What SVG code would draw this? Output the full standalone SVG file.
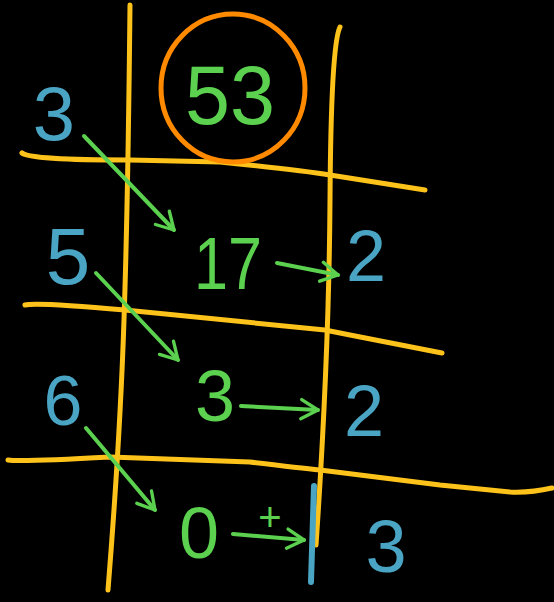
<svg xmlns="http://www.w3.org/2000/svg" width="554" height="602" viewBox="0 0 554 602">
<defs>
<marker id="ah" viewBox="0 0 10 10" refX="8" refY="5" markerWidth="6" markerHeight="6" orient="auto" markerUnits="strokeWidth">
<path d="M1,1 L8,5 L1,9" fill="none" stroke="#5bd14f" stroke-width="1.4" stroke-linecap="round" stroke-linejoin="round"/>
</marker>
<style>
.grid{fill:none;stroke:#fdc31a;stroke-width:5;stroke-linecap:round;stroke-linejoin:round}
.arr{fill:none;stroke:#5bd14f;stroke-width:4;stroke-linecap:round;marker-end:url(#ah)}
.g{fill:#5bd14f;font-family:"Liberation Sans",Arial,sans-serif}
.b{fill:#4aa5c4;font-family:"Liberation Sans",Arial,sans-serif}
</style>
</defs>
<rect width="554" height="602" fill="#000"/>
<g id="grid">
<path class="grid" d="M130,5 Q128,200 124,320 T108,590"/>
<path class="grid" d="M340,27 Q331,45 330,200 T316,545"/>
<path class="grid" d="M22,153 Q30,160 130,160 L220,162 Q300,170 330,175 L425,190"/>
<path class="grid" d="M25,305 Q35,302 125,310 L325,330 L350,335 L442,353"/>
<path class="grid" d="M8,460 Q20,462 110,457 L250,462 Q300,468 320,470 L440,485 L510,492 Q530,493 552,488"/>
</g>
<g id="root">
<ellipse cx="233" cy="88" rx="72" ry="74" fill="none" stroke="#ff8a00" stroke-width="5"/>
<text class="g" x="230" y="124" font-size="84" text-anchor="middle" textLength="90" lengthAdjust="spacingAndGlyphs">53</text>
</g>
<g id="d3"><text class="b" x="54" y="140" font-size="76" text-anchor="middle">3</text></g>
<g id="d5"><text class="b" x="68" y="284" font-size="80" text-anchor="middle">5</text></g>
<g id="d6"><text class="b" x="63" y="425" font-size="70" text-anchor="middle">6</text></g>
<g id="q17"><text class="g" x="228" y="289" font-size="74" text-anchor="middle" textLength="68" lengthAdjust="spacingAndGlyphs">17</text></g>
<g id="q3"><text class="g" x="215" y="421" font-size="72" text-anchor="middle">3</text></g>
<g id="q0"><text class="g" x="199" y="558" font-size="72" text-anchor="middle">0</text></g>
<g id="r1"><text class="b" x="366" y="281" font-size="72" text-anchor="middle">2</text></g>
<g id="r2"><text class="b" x="364" y="436" font-size="72" text-anchor="middle">2</text></g>
<g id="r3">
<path d="M314,486 L311,582" fill="none" stroke="#4aa5c4" stroke-width="6" stroke-linecap="round"/>
</g>
<g id="r4"><text class="b" x="386" y="572" font-size="74" text-anchor="middle">3</text></g>
<g id="plus"><text class="g" x="270" y="531" font-size="40" text-anchor="middle">+</text></g>
<g id="connectors">
<path class="arr" d="M84,136 L174,230"/>
<path class="arr" d="M96,273 L178,360"/>
<path class="arr" d="M86,428 L155,510"/>
<path class="arr" d="M277,263 L338,275"/>
<path class="arr" d="M241,406 L318,410"/>
<path class="arr" d="M233,534 L304,540"/>
</g>
</svg>
